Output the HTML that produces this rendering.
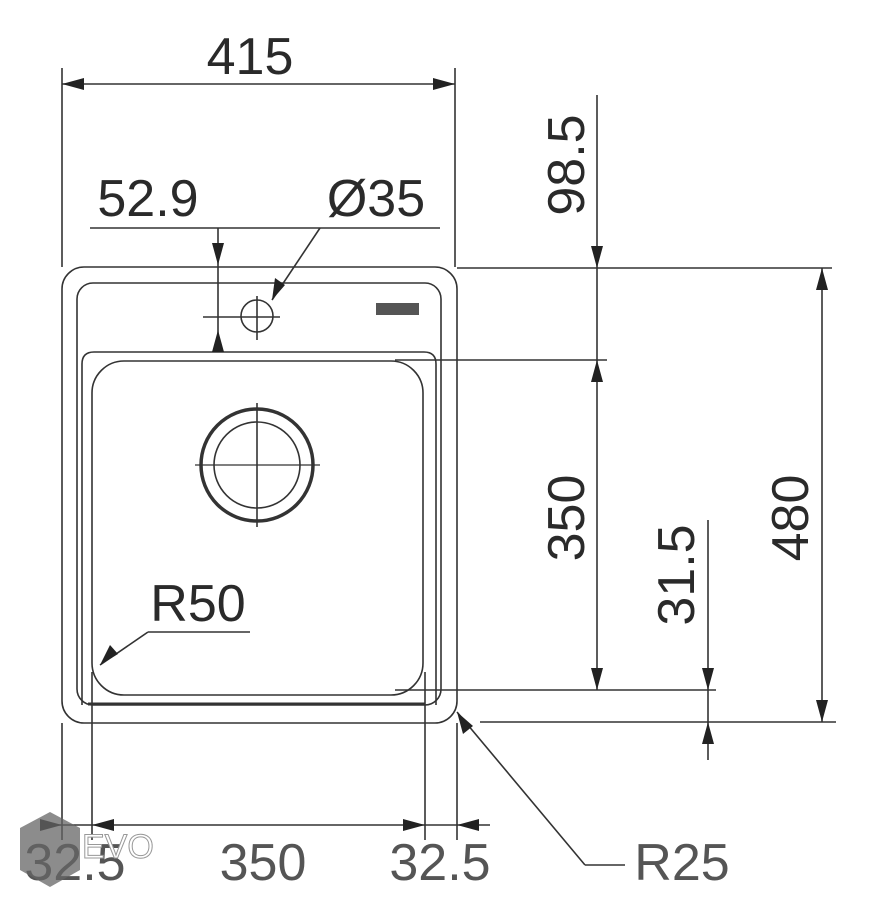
<!DOCTYPE html>
<html><head><style>html,body{margin:0;padding:0;background:#fff}svg{display:block}</style></head>
<body>
<svg width="873" height="900" viewBox="0 0 873 900" xmlns="http://www.w3.org/2000/svg">
<g stroke="#333" fill="none" stroke-width="1.6">
<rect x="62" y="267" width="395" height="456" rx="22"/>
<rect x="77" y="283" width="364" height="422" rx="16"/>
<path d="M82,705 V364 Q82,352 94,352 H424 Q436,352 436,364 V705"/>
<rect x="92" y="361" width="331" height="334" rx="32"/>
<line x1="88" y1="704" x2="425" y2="704" stroke-width="3"/>
<circle cx="257" cy="465" r="56" stroke-width="3.5"/>
<circle cx="257" cy="465" r="43" stroke-width="1.6"/>
<line x1="195" y1="465" x2="320" y2="465" stroke-width="1.2"/>
<line x1="257" y1="403" x2="257" y2="527" stroke-width="1.6"/>
<circle cx="257" cy="316" r="16"/>
<line x1="203" y1="317" x2="280" y2="317"/>
<line x1="257" y1="296" x2="257" y2="340"/>
<line x1="62" y1="68" x2="62" y2="267"/>
<line x1="455" y1="68" x2="455" y2="267"/>
<line x1="62" y1="723" x2="62" y2="840"/>
<line x1="92" y1="672" x2="92" y2="840"/>
<line x1="425" y1="672" x2="425" y2="840"/>
<line x1="457" y1="723" x2="457" y2="840"/>
<line x1="457" y1="268" x2="832" y2="268"/>
<line x1="395" y1="360" x2="607" y2="360"/>
<line x1="395" y1="690" x2="716" y2="690"/>
<line x1="480" y1="722" x2="836" y2="722"/>
<line x1="62" y1="84" x2="455" y2="84"/>
<line x1="90" y1="228" x2="440" y2="228"/>
<line x1="218" y1="228" x2="218" y2="352"/>
<path d="M320,228 L272,300"/>
<line x1="597" y1="95" x2="597" y2="690"/>
<line x1="708" y1="520" x2="708" y2="760"/>
<line x1="822" y1="268" x2="822" y2="722"/>
<line x1="40" y1="825" x2="490" y2="825"/>
<path d="M148,632 H250 M148,632 L100,665"/>
<path d="M585,865 H625 M585,865 L457,712"/>
</g>
<g fill="#222">
<path d="M62,84 l22,-6 v12Z M455,84 l-22,-6 v12Z"/>
<path d="M218,265 l-6,-22 h12Z M218,330 l-6,22 h12Z"/>
<path d="M272,300 l3,-22 l10,7Z"/>
<path d="M597,268 l-6,-22 h12Z M597,360 l-6,22 h12Z M597,690 l-6,-22 h12Z"/>
<path d="M708,690 l-6,-22 h12Z M708,722 l-6,22 h12Z"/>
<path d="M822,268 l-6,22 h12Z M822,722 l-6,-22 h12Z"/>
<path d="M62,825 l-22,-6 v12Z M92,825 l22,-6 v12Z M425,825 l-22,-6 v12Z M457,825 l22,-6 v12Z"/>
<path d="M100,665 l10,-20 l8,9Z"/>
<path d="M457,712 l6,22 l10,-8Z"/>
</g>
<rect x="376" y="303" width="43" height="12" fill="#555"/>
<g font-family="Liberation Sans, sans-serif" fill="#2a2a2a" font-size="52">
<text x="250" y="74" text-anchor="middle">415</text>
<text x="148" y="216" text-anchor="middle">52.9</text>
<text x="376" y="216" text-anchor="middle">Ø35</text>
<text x="198" y="621" text-anchor="middle">R50</text>
<text x="75" y="880" text-anchor="middle" fill="#555">32.5</text>
<text x="263" y="880" text-anchor="middle" fill="#555">350</text>
<text x="440" y="880" text-anchor="middle" fill="#555">32.5</text>
<text x="682" y="880" text-anchor="middle" fill="#555">R25</text>
<text transform="translate(584,165) rotate(-90)" text-anchor="middle">98.5</text>
<text transform="translate(584,518) rotate(-90)" text-anchor="middle">350</text>
<text transform="translate(694,575) rotate(-90)" text-anchor="middle">31.5</text>
<text transform="translate(808,518) rotate(-90)" text-anchor="middle">480</text>
</g>
<path d="M50,812 L20,828 L20,870 L50,887 L80,870 L80,828 Z" fill="#666" opacity="0.75"/>
<text x="82" y="858" font-family="Liberation Sans, sans-serif" font-size="34" fill="#fff" stroke="#999" stroke-width="1">EVO</text>
</svg>
</body></html>
